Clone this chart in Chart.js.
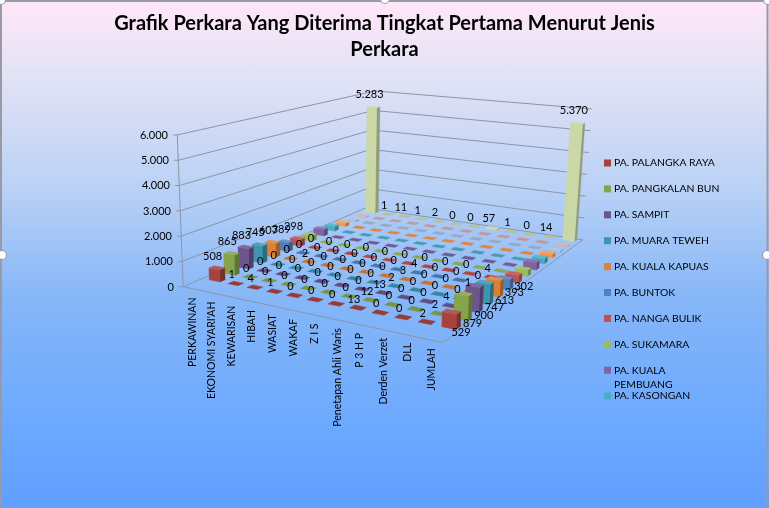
<!DOCTYPE html>
<html>
<head>
<meta charset="utf-8">
<title>Grafik Perkara</title>
<script src="https://cdn.jsdelivr.net/npm/chart.js@4"></script>
<style>
  html, body { margin: 0; padding: 0; }
  body {
    width: 769px; height: 508px; overflow: hidden;
    background: linear-gradient(180deg, #ffe6f8 0px, #e6e4f6 65px, #b9d1f5 190px, #85b6f8 300px, #6ba8ff 430px, #619fff 508px);
  }
  canvas { display: block; }
</style>
</head>
<body>
<canvas id="grafik" width="769" height="508"></canvas>
<script>
const categories = ['PERKAWINAN', "EKONOMI SYARI'AH", 'KEWARISAN', 'HIBAH', 'WASIAT', 'WAKAF', 'Z I S',
  'Penetapan Ahli Waris', 'P 3 H P', 'Derden Verzet', 'DLL', 'JUMLAH'];
const ticks = [0, 1000, 2000, 3000, 4000, 5000, 6000];

const palangkaRaya = [508, 1, 4, 1, 0, 0, 0, 13, 0, 0, 2, 529];
const pangkalanBun = [865, 0, 0, 0, 0, 0, 0, 12, 0, 0, 2, 879];
const sampit = [883, 0, 0, 0, 0, 0, 0, 13, 0, 0, 4, 900];
const muaraTeweh = [745, 0, 0, 0, 0, 0, 0, 2, 0, 0, 0, 747];
const kualaKapuas = [607, 0, 2, 0, 0, 0, 0, 3, 0, 0, 1, 613];
const buntok = [389, 0, 0, 0, 0, 0, 0, 4, 0, 0, 0, 393];
const nangaBulik = [298, 0, 0, 0, 0, 0, 0, 0, 0, 0, 4, 302];
const sukamara = [250, 0, 0, 0, 0, 0, 0, 0, 0, 0, 0, 250];
const kualaPembuang = [300, 0, 5, 0, 0, 0, 0, 0, 0, 0, 0, 305];
const kasongan = [220, 0, 0, 0, 2, 0, 0, 0, 0, 0, 0, 222];
const tamiangLayang = [140, 0, 0, 0, 0, 0, 0, 10, 0, 0, 0, 150];
const pulangPisau = [50, 0, 0, 0, 0, 0, 0, 0, 1, 0, 0, 51];
const kualaKurun = [28, 0, 0, 0, 0, 0, 0, 0, 0, 0, 1, 29];
const jumlah = [5283, 1, 11, 1, 2, 0, 0, 57, 1, 0, 14, 5370];

const seriesNames = ['PA. PALANGKA RAYA', 'PA. PANGKALAN BUN', 'PA. SAMPIT', 'PA. MUARA TEWEH', 'PA. KUALA KAPUAS',
  'PA. BUNTOK', 'PA. NANGA BULIK', 'PA. SUKAMARA', 'PA. KUALA PEMBUANG', 'PA. KASONGAN',
  'PA. TAMIANG LAYANG', 'PA. PULANG PISAU', 'PA. KUALA KURUN', 'JUMLAH'];
const seriesValues = [palangkaRaya, pangkalanBun, sampit, muaraTeweh, kualaKapuas, buntok, nangaBulik, sukamara,
  kualaPembuang, kasongan, tamiangLayang, pulangPisau, kualaKurun, jumlah];
const seriesColors = ['#a8423f', '#86a44a', '#6e548d', '#3d96ae', '#da8137', '#4f81bd', '#c0504d', '#9bbb59',
  '#8064a2', '#4bacc6', '#f79646', '#a9bcd9', '#d9a9a8', '#c9d8a6'];
const legendCount = 10;   // la leyenda del original se corta en PA. KASONGAN
const labelledSeries = [0, 1, 2, 3, 4, 5, 6, 13];

// ---- camara: suelo y paredes en pixeles, la altura se saca de la escala por esquina
const rowCorners = [[217, 280], [451, 327], [570, 240], [372, 212]];
const floorCorners = { A: [183, 287], C: [443, 343], D: [583, 240], B: [366, 208] };
const wallTops = { A: [177, 135], B: [375, 91], D: [592, 109] };
const heightScale = [0.0235, 0.0285, 0.0218, 0.0199];
const vanishX = 320, vanishSpan = 3700;
const barU = 0.29, barV = 0.17;
const flatU = 0.27, flatV = 0.19;
const flatBelow = 20;   // valores muy pequenos se ven como una marca plana
const maxCat = categories.length - 1, maxSer = seriesNames.length - 1;

const H = (function (p) {
  const dx1 = p[1][0] - p[2][0], dx2 = p[3][0] - p[2][0], sx = p[0][0] - p[1][0] + p[2][0] - p[3][0];
  const dy1 = p[1][1] - p[2][1], dy2 = p[3][1] - p[2][1], sy = p[0][1] - p[1][1] + p[2][1] - p[3][1];
  const den = dx1 * dy2 - dx2 * dy1;
  const g = (sx * dy2 - dx2 * sy) / den, h = (dx1 * sy - sx * dy1) / den;
  return {
    a: p[1][0] - p[0][0] + g * p[1][0], b: p[3][0] - p[0][0] + h * p[3][0], c: p[0][0],
    d: p[1][1] - p[0][1] + g * p[1][1], e: p[3][1] - p[0][1] + h * p[3][1], f: p[0][1], g: g, h: h
  };
})(rowCorners);

// (categoria, serie, valor) -> pixel
function project(u, v, w) {
  const s = u / maxCat, t = v / maxSer;
  const q = H.g * s + H.h * t + 1;
  const x = (H.a * s + H.b * t + H.c) / q;
  const y = (H.d * s + H.e * t + H.f) / q;
  const k = heightScale[0] * (1 - s) * (1 - t) + heightScale[1] * s * (1 - t) + heightScale[2] * s * t + heightScale[3] * (1 - s) * t;
  const up = w * k;
  return { x: x + up * (x - vanishX) / vanishSpan, y: y - up };
}

function shade(hex, f) {
  const n = parseInt(hex.slice(1), 16);
  const c = [n >> 16, (n >> 8) & 255, n & 255].map(function (v) {
    return Math.round(f < 1 ? v * f : v + (255 - v) * (f - 1));
  });
  return 'rgb(' + c.join(',') + ')';
}

function face(points, color) {
  return {
    data: points.concat([points[0]]),
    backgroundColor: color, borderColor: color, borderWidth: 0.4,
    fill: 'shape', pointRadius: 0, pointHoverRadius: 0, tension: 0, clip: false
  };
}

function line(p, q) {
  return {
    data: [{ x: p[0], y: p[1] }, { x: q[0], y: q[1] }],
    borderColor: '#8c95a6', borderWidth: 1, fill: false, pointRadius: 0, pointHoverRadius: 0, clip: false
  };
}

function mix(p, q, f) { return [p[0] + (q[0] - p[0]) * f, p[1] + (q[1] - p[1]) * f]; }

function buildDatasets() {
  const out = [];
  const F = floorCorners;
  ticks.forEach(function (t) {
    const f = t / ticks[ticks.length - 1];
    const a = mix(F.A, wallTops.A, f), b = mix(F.B, wallTops.B, f), d = mix(F.D, wallTops.D, f);
    out.push(line(a, b));
    out.push(line(b, d));
    out.push(line([a[0] - 4, a[1]], a));
  });
  out.push(line(F.A, wallTops.A));
  out.push(line(F.A, F.C));
  out.push(line(F.C, F.D));

  // de atras hacia delante
  for (let j = maxSer; j >= 0; j--) {
    for (let i = 0; i <= maxCat; i++) {
      const val = seriesValues[j][i], col = seriesColors[j];
      const solid = val >= flatBelow;
      const hu = solid ? barU : flatU, hv = solid ? barV : flatV;
      const u0 = i - hu, u1 = i + hu, v0 = j - hv, v1 = j + hv;
      if (solid) {
        out.push(face([project(u1, v0, 0), project(u1, v1, 0), project(u1, v1, val), project(u1, v0, val)], shade(col, 0.72)));
        out.push(face([project(u0, v0, 0), project(u1, v0, 0), project(u1, v0, val), project(u0, v0, val)], col));
      }
      out.push(face([project(u0, v0, val), project(u1, v0, val), project(u1, v1, val), project(u0, v1, val)], shade(col, solid ? 1.12 : 0.9)));
    }
  }
  return out.reverse();
}

function fmt(v) { return String(v).replace(/\B(?=(\d{3})+$)/g, '.'); }

const textPlugin = {
  id: 'textos',
  afterDatasetsDraw(chart) {
    const ctx = chart.ctx;
    ctx.save();
    ctx.fillStyle = '#000';
    ctx.font = '11px Lato';

    // eje de valores
    ctx.textAlign = 'right'; ctx.textBaseline = 'middle';
    ticks.forEach(function (t) {
      const p = mix(floorCorners.A, wallTops.A, t / ticks[ticks.length - 1]);
      ctx.fillText(fmt(t), p[0] - 9, p[1]);
    });

    // categorias giradas, colgadas de la primera fila
    ctx.font = '10.5px Lato';
    categories.forEach(function (c, i) {
      const p = project(i, 0, 0);
      ctx.save();
      ctx.translate(p.x - 24 + i * 0.45, p.y + 17.5 + i * 0.33);
      ctx.rotate(-Math.PI / 2);
      ctx.textAlign = 'right'; ctx.textBaseline = 'middle';
      ctx.fillText(c, 0, 0);
      ctx.restore();
    });

    // etiquetas de datos
    ctx.font = '11px Lato';
    ctx.textAlign = 'center'; ctx.textBaseline = 'middle';
    labelledSeries.forEach(function (j) {
      seriesValues[j].forEach(function (val, i) {
        let x, y;
        if (i === maxCat && j !== maxSer) {
          const b = project(i, j, 0);
          x = b.x + 10; y = b.y + 5;
        } else {
          const top = project(i, j, val);
          x = top.x - 4; y = top.y - (val > 100 ? 12 : 9);
        }
        ctx.fillText(fmt(val), x, y);
      });
    });

    // leyenda
    ctx.textAlign = 'left'; ctx.font = '10.4px Lato';
    for (let k = 0; k < legendCount; k++) {
      const y = 163 + k * 25.9;
      ctx.fillStyle = seriesColors[k];
      ctx.fillRect(604, y - 3.5, 7, 7);
      ctx.fillStyle = '#000';
      if (seriesNames[k] === 'PA. KUALA PEMBUANG') {
        ctx.fillText('PA. KUALA', 614, y);
        ctx.fillText('PEMBUANG', 614, y + 14);
      } else {
        ctx.fillText(seriesNames[k], 614, y);
      }
    }

    // marco de seleccion
    ctx.strokeStyle = '#9a9aa6'; ctx.lineWidth = 2;
    ctx.beginPath();
    ctx.moveTo(1, 508); ctx.lineTo(1, 1); ctx.lineTo(767.5, 1); ctx.lineTo(767.5, 508);
    ctx.stroke();
    ctx.lineWidth = 1.2;
    [[2, 255], [767, 255], [385, -1], [1, 0], [768, 0]].forEach(function (h) {
      ctx.beginPath();
      ctx.arc(h[0], h[1], 4.5, 0, Math.PI * 2);
      ctx.fillStyle = '#fff';
      ctx.fill();
      ctx.stroke();
    });
    ctx.restore();
  }
};

const chart = new Chart(document.getElementById('grafik'), {
  type: 'line',
  data: { datasets: buildDatasets() },
  plugins: [textPlugin],
  options: {
    responsive: false,
    animation: false,
    events: [],
    layout: { padding: 0 },
    scales: {
      x: { type: 'linear', display: false, min: 0, max: 769 },
      y: { type: 'linear', display: false, reverse: true, min: 0, max: 508 }
    },
    plugins: {
      legend: { display: false },
      tooltip: { enabled: false },
      title: {
        display: true,
        text: ['Grafik Perkara Yang Diterima Tingkat Pertama Menurut Jenis', 'Perkara'],
        color: '#000',
        font: { family: 'Lato', size: 20, weight: 'bold', lineHeight: 1.3 },
        padding: { top: 11, bottom: 0 }
      }
    }
  }
});

// la escala va en pixeles de la pagina: se ajusta al area que deja el titulo
const area = chart.chartArea;
chart.options.scales.x.min = area.left;
chart.options.scales.x.max = area.right;
chart.options.scales.y.min = area.top;
chart.options.scales.y.max = area.bottom;
chart.update('none');
</script>
</body>
</html>
